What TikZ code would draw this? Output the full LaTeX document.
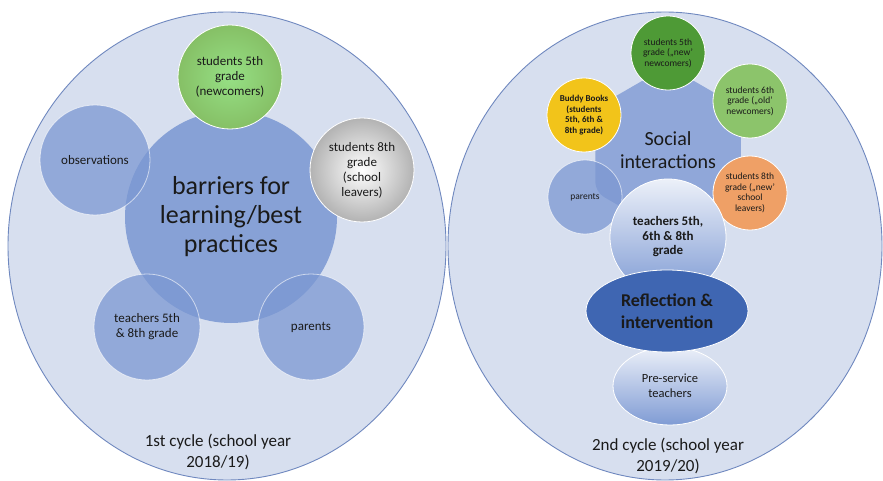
\documentclass[tikz,border=0pt]{standalone}
\usepackage{fontspec}
\setmainfont{Carlito}
\usetikzlibrary{shapes.geometric}

\definecolor{cyclefill}{HTML}{D7DFEF}
\definecolor{cycleline}{HTML}{6F88BF}
\definecolor{hubblue}{HTML}{7F9BD4}
\definecolor{satblue}{HTML}{7C98D2}
\definecolor{deepblue}{HTML}{3F66B2}
\definecolor{darkgreen}{HTML}{4E9A36}
\definecolor{lightgreen}{HTML}{8CC46B}
\definecolor{budyellow}{HTML}{F2C41A}
\definecolor{leaverorange}{HTML}{EFA066}
\definecolor{inktext}{HTML}{1A1A1A}

\tikzset{
  cycle/.style={ellipse, draw=cycleline, fill=cyclefill, line width=0.9pt, inner sep=0pt},
  hub/.style={circle, fill=hubblue, fill opacity=0.9, text opacity=1, text=inktext, align=center, inner sep=0pt},
  sat/.style={circle, fill=satblue, fill opacity=0.75, text opacity=1, draw=white, draw opacity=0.6,
    line width=0.8pt, text=inktext, align=center, inner sep=0pt},
  ball/.style={circle, draw=white, line width=0.8pt, text=inktext, align=center, inner sep=0pt},
  caption/.style={text=inktext, align=center, font=\fontsize{17}{21}\selectfont}
}

\begin{document}
\begin{tikzpicture}[x=1pt,y=-1pt]
\useasboundingbox (0,0) rectangle (883,481);

% first cycle
\node[cycle, minimum width=438pt, minimum height=468pt] (cycA) at (227,246) {};
\node[hub, minimum size=212pt, font=\fontsize{26}{29}\selectfont] (barriers) at (231,217)
  {barriers for\\learning/best\\practices};
\node[sat, minimum size=110pt, font=\fontsize{13}{15}\selectfont] (observ) at (95,160) {observations};
\node[sat, minimum size=106pt, font=\fontsize{13}{15}\selectfont] (teachA) at (147,327) {teachers 5th\\\& 8th grade};
\node[sat, minimum size=106pt, font=\fontsize{13}{15}\selectfont] (parentA) at (311,327) {parents};
\node[ball, minimum size=104pt, inner color=green!25!lightgreen!70!white, outer color=lightgreen!90!darkgreen,
  font=\fontsize{13}{15}\selectfont] (newcomA) at (230,77) {students 5th\\grade\\(newcomers)};
\node[ball, minimum size=104pt, inner color=white, outer color=black!30,
  font=\fontsize{13}{15}\selectfont] (leaverA) at (362,170) {students 8th\\grade\\(school\\leavers)};
\node[caption] (capA) at (218,452) {1st cycle (school year\\2018/19)};

% second cycle
\node[cycle, minimum width=434pt, minimum height=468pt] (cycB) at (665,246) {};
\node[regular polygon, regular polygon sides=6, shape border rotate=30, minimum size=168pt,
  fill=satblue!85!white, rounded corners=10pt, inner sep=0pt, text=inktext, align=center,
  font=\fontsize{20}{23}\selectfont] (social) at (668,150) {Social\\interactions};
\node[sat, minimum size=74pt, font=\fontsize{9.5}{10.5}\selectfont] (parentB) at (585,197) {parents};
\node[ball, minimum size=74pt, fill=darkgreen, font=\fontsize{9.5}{10.5}\selectfont] (newcomB) at (668,53)
  {students 5th\\grade („new’\\newcomers)};
\node[ball, minimum size=74pt, fill=lightgreen, font=\fontsize{9.5}{10.5}\selectfont] (oldnew) at (750,101)
  {students 6th\\grade („old’\\newcomers)};
\node[ball, minimum size=74pt, fill=budyellow, font=\bfseries\fontsize{9}{10.5}\selectfont] (buddy) at (584,115)
  {Buddy Books\\(students\\5th, 6th \&\\8th grade)};
\node[ball, minimum size=74pt, fill=leaverorange, font=\fontsize{9.5}{10.5}\selectfont] (leaverB) at (750,193)
  {students 8th\\grade („new’\\school\\leavers)};
\node[ball, minimum size=116pt, top color=hubblue!15!white, bottom color=hubblue,
  font=\bfseries\fontsize{13}{14.5}\selectfont] (teachB) at (668,237) {teachers 5th,\\6th \& 8th\\grade};
\node[ball, ellipse, minimum width=114pt, minimum height=78pt, top color=hubblue!15!white, bottom color=hubblue,
  font=\fontsize{12.5}{15}\selectfont] (preserv) at (670,386) {Pre-service\\teachers};
\node[ellipse, fill=deepblue, draw=white, line width=0.8pt, minimum width=162pt, minimum height=82pt,
  inner sep=0pt, align=center, text=inktext, font=\bfseries\fontsize{18}{21.5}\selectfont] (reflect) at (667,311)
  {Reflection \&\\intervention};
\node[caption] (capB) at (668,456) {2nd cycle (school year\\2019/20)};

\end{tikzpicture}
\end{document}
